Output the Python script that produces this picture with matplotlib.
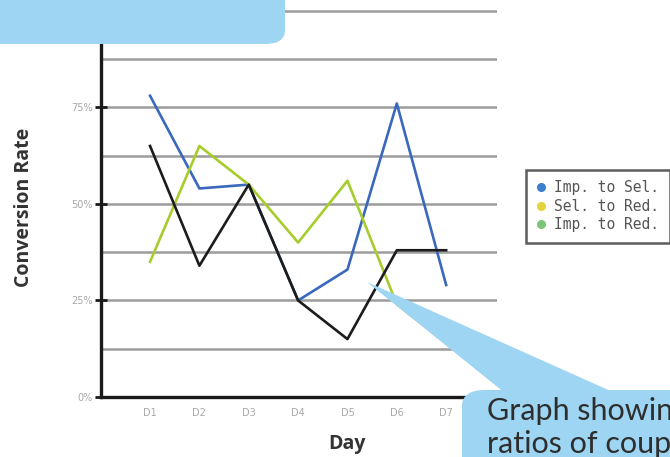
import matplotlib
matplotlib.use("Agg")
import matplotlib.pyplot as plt
from matplotlib.lines import Line2D
from matplotlib.patches import FancyBboxPatch, Polygon

W, H = 670, 457

days = ["D1", "D2", "D3", "D4", "D5", "D6", "D7"]
imp_to_sel = [78, 54, 55, 25, 33, 76, 29]
sel_to_red = [35, 65, 55, 40, 56, 24, 14]
imp_to_red = [65, 34, 55, 25, 15, 38, 38]

legend_labels = ["Imp. to Sel.", "Sel. to Red.", "Imp. to Red."]
legend_colors = ["#3f7fcf", "#e3d43c", "#7cc576"]
y_ticks = [0, 25, 50, 75]
y_grid = [12.5, 37.5, 62.5, 87.5, 100]
note_lines = ["Graph showing", "ratios of coupon"]


def px(x, y):
    """pixel position (from top-left) -> figure fraction"""
    return x / W, 1 - y / H


fig = plt.figure(figsize=(W / 100, H / 100), dpi=100)
fig.patch.set_facecolor("white")

left, bottom = px(100.7, 397)
ax = fig.add_axes([left, bottom, 497 / W - left, 1 - bottom])

x = list(range(1, len(days) + 1))
ax.plot(x, imp_to_sel, color="#3a68bd", lw=1.9, zorder=3)
ax.plot(x, sel_to_red, color="#a6cd2c", lw=1.9, zorder=3)
ax.plot(x, imp_to_red, color="#1c1c1c", lw=1.9, zorder=3)

ax.set_xlim(0, 8.03)
ax.set_ylim(0, 102.8)
ax.set_xticks(x)
ax.set_xticklabels(days)
ax.set_yticks(y_ticks)
ax.set_yticklabels([f"{v}%" for v in y_ticks])
ax.set_yticks(y_grid, minor=True)

ax.yaxis.grid(True, which="both", color="#9c9c9c", lw=1.8, zorder=0)
ax.set_axisbelow(True)
ax.tick_params(axis="x", length=0, pad=8, labelsize=7, labelcolor="#a8a8a8")
ax.tick_params(axis="y", which="major", direction="inout", length=9, width=2,
               color="#1a1a1a", pad=1, labelsize=7, labelcolor="#a8a8a8")
ax.tick_params(axis="y", which="minor", length=0)

for side in ("top", "right"):
    ax.spines[side].set_visible(False)
for side in ("left", "bottom"):
    ax.spines[side].set_linewidth(2.4)
    ax.spines[side].set_color("#1a1a1a")

fig.text(*px(24, 207), "Conversion Rate", rotation=90, ha="center", va="center",
         fontsize=14, fontweight="bold", color="#333333", family="Open Sans")
fig.text(*px(347, 444), "Day", ha="center", va="center",
         fontsize=14, fontweight="bold", color="#333333", family="Open Sans")

handles = [Line2D([], [], marker="o", ls="", ms=5.5, color=c) for c in legend_colors]
leg = fig.legend(handles, legend_labels, loc="upper left",
                 bbox_to_anchor=px(526, 170), bbox_transform=fig.transFigure,
                 fancybox=False, frameon=True, handlelength=0.7, handletextpad=0.55,
                 labelspacing=0.25, borderpad=0.7, borderaxespad=0,
                 prop={"family": "DejaVu Sans Mono", "size": 10.5})
leg.get_frame().set_edgecolor("#333333")
leg.get_frame().set_linewidth(1.8)
for t in leg.get_texts():
    t.set_color("#555555")

# callout boxes
blue = "#9dd5f2"
top_box = FancyBboxPatch(px(-40, 44), 325 / W, 80 / H, transform=fig.transFigure,
                         boxstyle="round,pad=0,rounding_size=0.03",
                         fc=blue, ec="none", zorder=10)
fig.patches.append(top_box)

pointer = Polygon([px(367, 282), px(505, 393), px(615, 393)], closed=True,
                  transform=fig.transFigure, fc=blue, ec="none", zorder=10)
fig.patches.append(pointer)
note_box = FancyBboxPatch(px(462, 520), 300 / W, 130 / H, transform=fig.transFigure,
                          boxstyle="round,pad=0,rounding_size=0.035",
                          fc=blue, ec="none", zorder=10)
fig.patches.append(note_box)

for i, line in enumerate(note_lines):
    fig.text(*px(487, 420 + 33 * i), line, ha="left", va="baseline",
             fontsize=22, color="#2e2e2e", family="Lato", zorder=11)

fig.savefig("out.png", dpi=100)
